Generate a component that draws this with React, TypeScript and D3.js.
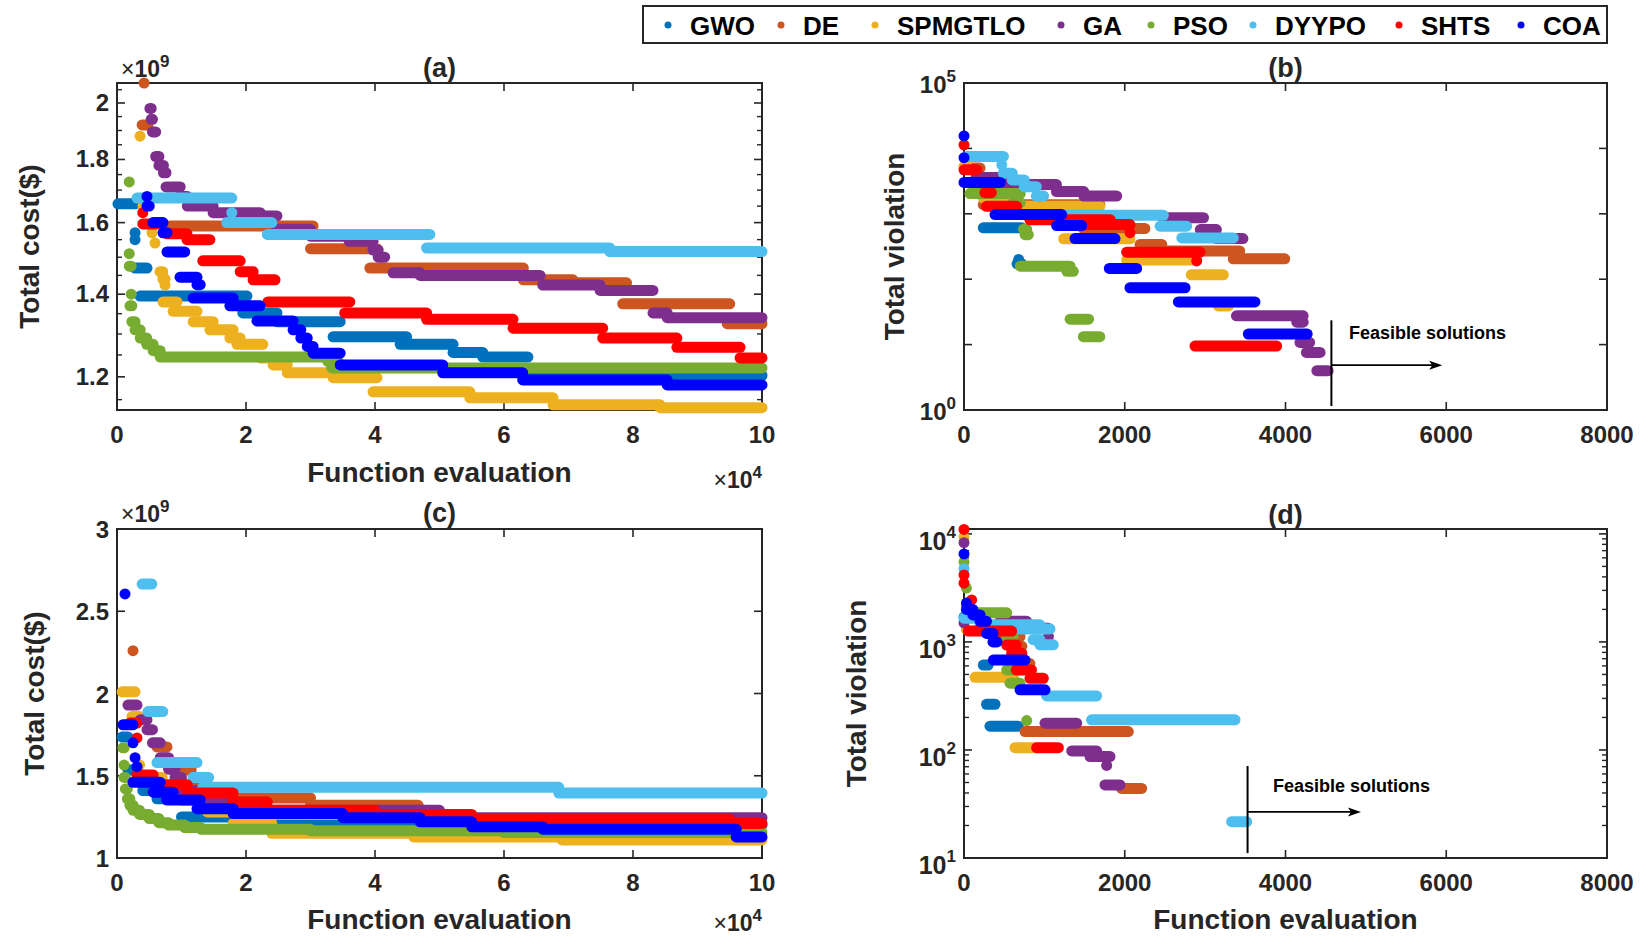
import React from 'react';
import * as d3 from 'd3';

type Run = [number, number, number]; // [start evaluation, end evaluation, value]

const algorithms = ['GWO', 'DE', 'SPMGTLO', 'GA', 'PSO', 'DYYPO', 'SHTS', 'COA'];
const colors = ['#0072BD', '#CC5520', '#EDB120', '#7E2F8E', '#77AC30', '#4DBEEE', '#FF0000', '#0000FF'];

// ---------- Panel (a): total cost (x1e9) vs function evaluation ----------
const aGWO: Run[] = [[150, 2800, 1.657], [2800, 2800, 1.57], [2800, 2800, 1.55], [2800, 4650, 1.47], [3570, 20150, 1.395], [19500, 24800, 1.352], [24800, 34600, 1.33], [33500, 44900, 1.293], [43900, 52100, 1.275], [52100, 56700, 1.256], [56700, 63700, 1.245], [63700, 100000, 1.203]];
const aDE: Run[] = [[4200, 4200, 2.076], [3900, 4800, 1.92], [8200, 30400, 1.59], [30000, 40300, 1.524], [39200, 63000, 1.47], [63000, 70700, 1.438], [70700, 79000, 1.43], [78400, 95000, 1.375], [94600, 100000, 1.325]];
const aSPMGTLO: Run[] = [[3570, 3570, 1.88], [4030, 4030, 1.65], [5430, 5430, 1.57], [5890, 5890, 1.54], [6670, 7100, 1.46], [7100, 7450, 1.44], [7450, 7450, 1.424], [7130, 9300, 1.38], [8700, 12400, 1.356], [11800, 14900, 1.33], [14400, 18000, 1.31], [17500, 19100, 1.29], [18600, 22600, 1.275], [22200, 24800, 1.243], [24200, 26400, 1.227], [26400, 33500, 1.209], [33500, 40300, 1.198], [39700, 54700, 1.167], [54700, 67600, 1.154], [67600, 84200, 1.139], [84200, 100000, 1.133]];
const aGA: Run[] = [[5100, 5300, 1.98], [5300, 5500, 1.94], [5500, 6000, 1.895], [6000, 6500, 1.81], [6500, 7200, 1.78], [7200, 7600, 1.756], [7600, 9800, 1.71], [9800, 10900, 1.68], [10900, 14900, 1.65], [14900, 22200, 1.63], [22200, 24800, 1.62], [24800, 30000, 1.58], [30000, 36000, 1.56], [36000, 39700, 1.545], [39700, 40500, 1.52], [40500, 41500, 1.5], [42800, 47000, 1.457], [47000, 65600, 1.45], [66000, 74900, 1.424], [74900, 83100, 1.41], [83100, 85300, 1.352], [85300, 100000, 1.34]];
const aPSO: Run[] = [[1900, 1900, 1.726], [1900, 1900, 1.51], [1900, 2200, 1.475], [2200, 2200, 1.4], [2000, 2300, 1.37], [2300, 2800, 1.33], [2800, 3600, 1.31], [3600, 4600, 1.29], [4600, 5600, 1.275], [5600, 6700, 1.26], [6700, 32700, 1.245], [32700, 34300, 1.235], [33300, 100000, 1.22]];
const aDYYPO: Run[] = [[3100, 17800, 1.675], [17800, 17800, 1.63], [17000, 24000, 1.6], [23300, 48500, 1.565], [48000, 76400, 1.526], [76400, 100000, 1.516]];
const aSHTS: Run[] = [[4000, 4000, 1.63], [4000, 6200, 1.596], [7750, 10850, 1.567], [10850, 14400, 1.55], [13300, 19100, 1.49], [19100, 21100, 1.46], [21100, 24500, 1.438], [23400, 36100, 1.38], [35300, 48000, 1.352], [48000, 61400, 1.336], [61400, 75300, 1.314], [75300, 86800, 1.29], [86800, 96600, 1.268], [96600, 100000, 1.243]];
const aCOA: Run[] = [[4650, 4650, 1.68], [4650, 5000, 1.65], [5580, 7130, 1.6], [7130, 7750, 1.57], [7750, 10500, 1.515], [9770, 12400, 1.445], [12400, 12900, 1.425], [11800, 18000, 1.39], [17500, 22200, 1.37], [21700, 27300, 1.332], [27300, 28500, 1.31], [28500, 29500, 1.29], [29500, 30400, 1.27], [30400, 34600, 1.254], [34600, 50500, 1.227], [50500, 62900, 1.209], [62900, 85300, 1.193], [85300, 100000, 1.182]];

// ---------- Panel (b): total violation vs function evaluation ----------
const bGWO: Run[] = [[240, 717, 610], [680, 680, 200], [660, 720, 172]];
const bDE: Run[] = [[40, 200, 5000], [240, 1690, 1380], [1485, 2250, 596], [2190, 2460, 340], [2440, 3430, 270], [3350, 3990, 205]];
const bSPMGTLO: Run[] = [[0, 40, 5300], [240, 490, 1740], [490, 1690, 1300], [1240, 2065, 415], [2024, 2895, 196], [2828, 3226, 117], [3164, 3290, 39]];
const bGA: Run[] = [[150, 480, 3600], [480, 1150, 2800], [1150, 1490, 2190], [1490, 1900, 1870], [2480, 2980, 870], [2940, 3140, 575], [3140, 3470, 418], [3390, 4220, 27.5], [4140, 4220, 22], [4180, 4300, 10.8], [4260, 4430, 7.6], [4390, 4530, 4]];
const bPSO: Run[] = [[75, 700, 2040], [620, 700, 1480], [740, 780, 580], [760, 800, 480], [700, 1320, 158], [1280, 1360, 132], [1320, 1550, 24.5], [1485, 1690, 13.2]];
const bDYYPO: Run[] = [[30, 490, 7530], [470, 470, 5600], [490, 600, 4170], [600, 750, 3300], [750, 900, 2600], [900, 990, 1870], [1240, 2480, 950], [2440, 2770, 646], [2710, 3350, 427]];
const bSHTS: Run[] = [[0, 0, 11350], [0, 160, 4700], [260, 340, 2100], [280, 655, 1300], [820, 1820, 810], [1400, 2065, 684], [2065, 2065, 515], [2024, 2936, 259], [2895, 2895, 190], [2874, 3890, 9.5]];
const bCOA: Run[] = [[0, 0, 15500], [0, 0, 7200], [0, 450, 3020], [386, 1215, 973], [1153, 1464, 661], [1381, 1879, 418], [1808, 2148, 146], [2065, 2750, 74], [2667, 3620, 45], [3537, 4270, 14.5]];

// ---------- Panel (c): total cost (x1e9) vs function evaluation ----------
const cGWO: Run[] = [[800, 1700, 1.735], [1700, 2500, 1.535], [4000, 6200, 1.41], [6200, 10000, 1.36], [10000, 20000, 1.25], [20000, 100000, 1.2]];
const cDE: Run[] = [[2480, 2480, 2.26], [6200, 7750, 1.675], [9800, 11500, 1.535], [11500, 14000, 1.45], [14000, 30000, 1.365], [30000, 46700, 1.32]];
const cSPMGTLO: Run[] = [[800, 2800, 2.01], [2300, 3500, 1.86], [3500, 3500, 1.565], [5000, 7000, 1.49], [7000, 10000, 1.42], [10000, 14000, 1.35], [14000, 18000, 1.28], [18000, 24000, 1.21], [24000, 46000, 1.15], [46000, 69000, 1.128], [69000, 100000, 1.11]];
const cGA: Run[] = [[1700, 3100, 1.93], [3600, 4650, 1.84], [4650, 5500, 1.78], [5500, 6700, 1.7], [6700, 8000, 1.61], [8000, 9000, 1.54], [9000, 10000, 1.49], [10000, 13000, 1.41], [13000, 18000, 1.36], [18000, 50000, 1.29], [50000, 100000, 1.245]];
const cPSO: Run[] = [[900, 1100, 1.67], [1100, 1100, 1.565], [1100, 1300, 1.49], [1300, 1600, 1.42], [1600, 2000, 1.36], [2000, 2500, 1.32], [2500, 3500, 1.29], [3500, 5000, 1.265], [5000, 6500, 1.24], [6500, 8000, 1.215], [8000, 10500, 1.2], [10500, 13000, 1.185], [13000, 30000, 1.175], [30000, 60000, 1.165], [60000, 100000, 1.155]];
const cDYYPO: Run[] = [[3900, 5400, 2.665], [4800, 7100, 1.89], [6200, 12400, 1.58], [11800, 14200, 1.49], [13300, 68500, 1.43], [68500, 100000, 1.395]];
const cSHTS: Run[] = [[2000, 3100, 1.82], [3100, 3100, 1.73], [3100, 5600, 1.505], [6200, 10900, 1.445], [10900, 18000, 1.395], [18000, 23300, 1.34], [23300, 40000, 1.29], [40000, 55000, 1.265], [55000, 95000, 1.235], [95000, 100000, 1.21]];
const cCOA: Run[] = [[1240, 1240, 2.605], [930, 2480, 1.81], [2480, 2480, 1.7], [2800, 2800, 1.61], [3100, 3100, 1.555], [2480, 6700, 1.46], [5600, 8700, 1.4], [7700, 12900, 1.353], [12400, 18000, 1.3], [18000, 35000, 1.27], [35000, 47000, 1.245], [47000, 55000, 1.22], [55000, 66000, 1.19], [66000, 96000, 1.175], [96000, 100000, 1.128]];

// ---------- Panel (d): total violation vs function evaluation ----------
const dGWO: Run[] = [[0, 0, 1700], [240, 300, 610], [280, 386, 265], [323, 676, 166]];
const dDE: Run[] = [[30, 30, 2150], [448, 697, 1120], [570, 720, 910], [660, 820, 630], [760, 2044, 148], [1960, 2210, 44]];
const dSPMGTLO: Run[] = [[0, 0, 9400], [30, 30, 1300], [137, 614, 470], [634, 904, 105]];
const dGA: Run[] = [[0, 0, 8300], [0, 0, 1500], [448, 780, 1550], [780, 1050, 1340], [1050, 1050, 1120], [1008, 1402, 177], [1340, 1650, 98], [1568, 1816, 87], [1775, 1775, 72], [1754, 1941, 47.5]];
const dPSO: Run[] = [[0, 0, 5500], [30, 30, 3150], [33, 531, 1860], [531, 610, 1120], [531, 650, 550], [572, 697, 415], [780, 780, 187]];
const dDYYPO: Run[] = [[0, 0, 4770], [0, 200, 1660], [200, 945, 1440], [697, 1070, 1320], [860, 945, 1050], [945, 1111, 940], [1028, 1650, 316], [1588, 3372, 190], [3330, 3517, 21.7]];
const dSHTS: Run[] = [[0, 0, 11000], [0, 0, 4170], [0, 0, 3500], [95, 95, 2450], [54, 593, 1260], [530, 650, 935], [593, 720, 785], [650, 840, 550], [821, 987, 460], [904, 1174, 105]];
const dCOA: Run[] = [[0, 0, 6530], [30, 30, 2290], [30, 110, 2000], [110, 200, 1780], [200, 280, 1550], [280, 360, 1200], [360, 410, 1000], [365, 759, 680], [697, 1008, 360]];

// ---------- Ticks ----------
const evalTicksLong = [0, 20000, 40000, 60000, 80000, 100000];
const evalTicksShort = [0, 2000, 4000, 6000, 8000];
const costTicksA = [1.2, 1.4, 1.6, 1.8, 2.0];
const costMinorA = [1.15, 1.25, 1.3, 1.35, 1.45, 1.5, 1.55, 1.65, 1.7, 1.75, 1.85, 1.9, 1.95, 2.05];
const costTicksC = [1, 1.5, 2, 2.5, 3];
const violTicksB = [1, 10, 100, 1000, 10000, 100000];
const violLabelsB = [1, 100000];
const violTicksD = [10, 100, 1000, 10000];

// Feasible-solution annotations (data units)
const feasibleB = { at: 4571, arrowTo: 5950, lineTop: 23.5, lineBottom: 1.15, arrowY: 4.85, textX: 4790, textY: 12 };
const feasibleD = { at: 3528, arrowTo: 4939, lineTop: 71, lineBottom: 11.1, arrowY: 26.7, textX: 3844, textY: 40.8 };

const FONT = '"Liberation Sans", Arial, Helvetica, sans-serif';
const AX = '#262626';
const R = 5.5;

type Box = { l: number; r: number; t: number; b: number };

const boxA: Box = { l: 117, r: 762, t: 83, b: 410 };
const boxB: Box = { l: 964, r: 1607, t: 83, b: 410 };
const boxC: Box = { l: 117, r: 762, t: 529, b: 858 };
const boxD: Box = { l: 964, r: 1607, t: 529, b: 858 };

function Series({ runs, x, y }: any) {
  return (
    <g>
      {runs.map((series: Run[], i: number) => (
        <g key={algorithms[i]}>
          {series.map((r, j) =>
            r[0] === r[1] ? (
              <circle key={j} cx={x(r[0])} cy={y(r[2])} r={R} fill={colors[i]} />
            ) : (
              <line key={j} x1={x(r[0])} x2={x(r[1])} y1={y(r[2])} y2={y(r[2])} stroke={colors[i]} strokeWidth={2 * R} strokeLinecap="round" />
            )
          )}
        </g>
      ))}
    </g>
  );
}

function Axes({ box, x, y, xTicks, xFmt, yMajor, yMinor, yLabels, labelDy, labelSize, logLabels, supSize, supDy }: any) {
  const maj = 8, mn = 5;
  return (
    <g fontFamily={FONT} fontWeight="bold" fill={AX}>
      <rect x={box.l} y={box.t} width={box.r - box.l} height={box.b - box.t} fill="none" stroke={AX} strokeWidth={2} />
      {xTicks.map((v: number) => (
        <g key={'x' + v}>
          <line x1={x(v)} x2={x(v)} y1={box.b} y2={box.b - maj} stroke={AX} strokeWidth={1.6} />
          <line x1={x(v)} x2={x(v)} y1={box.t} y2={box.t + maj} stroke={AX} strokeWidth={1.6} />
          <text x={x(v)} y={box.b + 33} textAnchor="middle" fontSize={24}>{xFmt(v)}</text>
        </g>
      ))}
      {yMajor.map((v: number) => (
        <g key={'y' + v}>
          <line x1={box.l} x2={box.l + maj} y1={y(v)} y2={y(v)} stroke={AX} strokeWidth={1.6} />
          <line x1={box.r} x2={box.r - maj} y1={y(v)} y2={y(v)} stroke={AX} strokeWidth={1.6} />
        </g>
      ))}
      {yMinor.map((v: number) => (
        <g key={'m' + v}>
          <line x1={box.l} x2={box.l + mn} y1={y(v)} y2={y(v)} stroke={AX} strokeWidth={1.4} />
          <line x1={box.r} x2={box.r - mn} y1={y(v)} y2={y(v)} stroke={AX} strokeWidth={1.4} />
        </g>
      ))}
      {yLabels.map((v: number) => (
        <text key={'l' + v} x={box.l - 8} y={y(v) + labelDy} textAnchor="end" fontSize={labelSize}>
          {logLabels ? (
            <>
              <tspan>10</tspan>
              <tspan dy={supDy} fontSize={supSize}>{String(Math.round(Math.log10(v)))}</tspan>
            </>
          ) : (
            String(v)
          )}
        </text>
      ))}
    </g>
  );
}

function Feasible({ f, x, y }: any) {
  const xa = x(f.at);
  const xe = x(f.arrowTo);
  const ya = y(f.arrowY);
  return (
    <g>
      <line x1={xa} x2={xa} y1={y(f.lineTop)} y2={y(f.lineBottom)} stroke="#000" strokeWidth={2} />
      <line x1={xa} x2={xe - 6} y1={ya} y2={ya} stroke="#000" strokeWidth={1.6} />
      <path d={`M${xe},${ya} L${xe - 13},${ya - 4.5} L${xe - 10},${ya} L${xe - 13},${ya + 4.5} Z`} fill="#000" />
      <text x={x(f.textX)} y={y(f.textY)} fontFamily={FONT} fontWeight="bold" fontSize={18} fill="#000">Feasible solutions</text>
    </g>
  );
}

export default function App() {
  const xA = d3.scaleLinear().domain([0, 100000]).range([boxA.l, boxA.r]);
  const yA = d3.scaleLog().domain([1.128, 2.076]).range([boxA.b, boxA.t]);
  const xB = d3.scaleLinear().domain([0, 8000]).range([boxB.l, boxB.r]);
  const yB = d3.scaleLog().domain([1, 100000]).range([boxB.b, boxB.t]);
  const xC = d3.scaleLinear().domain([0, 100000]).range([boxC.l, boxC.r]);
  const yC = d3.scaleLinear().domain([1, 3]).range([boxC.b, boxC.t]);
  const xD = d3.scaleLinear().domain([0, 8000]).range([boxD.l, boxD.r]);
  const yD = d3.scaleLog().domain([10, 11100]).range([boxD.b, boxD.t]);

  const minorD: number[] = [];
  [10, 100, 1000].forEach((dec) => {
    for (let k = 2; k <= 9; k++) minorD.push(k * dec);
  });

  const fmtLong = (v: number) => String(v / 10000);
  const fmtShort = (v: number) => String(v);

  const runsA = [aGWO, aDE, aSPMGTLO, aGA, aPSO, aDYYPO, aSHTS, aCOA];
  const runsB = [bGWO, bDE, bSPMGTLO, bGA, bPSO, bDYYPO, bSHTS, bCOA];
  const runsC = [cGWO, cDE, cSPMGTLO, cGA, cPSO, cDYYPO, cSHTS, cCOA];
  const runsD = [dGWO, dDE, dSPMGTLO, dGA, dPSO, dDYYPO, dSHTS, dCOA];

  const legendTextX = [690, 803, 897, 1083, 1173, 1275, 1421, 1543];

  const txt = { fontFamily: FONT, fontWeight: 'bold' as const, fill: AX };

  return (
    <svg width={1645} height={938} style={{ position: 'absolute', left: 0, top: 0, background: '#fff' }}>
      <rect x={0} y={0} width={1645} height={938} fill="#fff" />

      {/* Panel (a) */}
      <Axes box={boxA} x={xA} y={yA} xTicks={evalTicksLong} xFmt={fmtLong} yMajor={costTicksA} yMinor={costMinorA} yLabels={costTicksA} labelDy={8} labelSize={24} />
      <Series runs={runsA} x={xA} y={yA} />
      {/* Panel (b) */}
      <Axes box={boxB} x={xB} y={yB} xTicks={evalTicksShort} xFmt={fmtShort} yMajor={violTicksB} yMinor={[]} yLabels={violLabelsB} labelDy={10} labelSize={24} logLabels supSize={17} supDy={-11} />
      <Series runs={runsB} x={xB} y={yB} />
      <Feasible f={feasibleB} x={xB} y={yB} />
      {/* Panel (c) */}
      <Axes box={boxC} x={xC} y={yC} xTicks={evalTicksLong} xFmt={fmtLong} yMajor={costTicksC} yMinor={[]} yLabels={costTicksC} labelDy={9} labelSize={24} />
      <Series runs={runsC} x={xC} y={yC} />
      {/* Panel (d) */}
      <Axes box={boxD} x={xD} y={yD} xTicks={evalTicksShort} xFmt={fmtShort} yMajor={violTicksD} yMinor={minorD} yLabels={violTicksD} labelDy={16} labelSize={25} logLabels supSize={17} supDy={-12} />
      <Series runs={runsD} x={xD} y={yD} />
      <Feasible f={feasibleD} x={xD} y={yD} />

      {/* Titles */}
      <g {...txt} fontSize={27} textAnchor="middle">
        <text x={(boxA.l + boxA.r) / 2} y={77}>(a)</text>
        <text x={(boxB.l + boxB.r) / 2} y={77}>(b)</text>
        <text x={(boxC.l + boxC.r) / 2} y={522}>(c)</text>
        <text x={(boxD.l + boxD.r) / 2} y={524}>(d)</text>
      </g>

      {/* Axis labels */}
      <g {...txt} fontSize={28} textAnchor="middle">
        <text transform={`translate(39,${(boxA.t + boxA.b) / 2}) rotate(-90)`}>Total cost($)</text>
        <text transform={`translate(904,${(boxB.t + boxB.b) / 2}) rotate(-90)`}>Total violation</text>
        <text transform={`translate(44,${(boxC.t + boxC.b) / 2}) rotate(-90)`}>Total cost($)</text>
        <text transform={`translate(866,${(boxD.t + boxD.b) / 2}) rotate(-90)`}>Total violation</text>
        <text x={(boxA.l + boxA.r) / 2} y={482}>Function evaluation</text>
        <text x={(boxC.l + boxC.r) / 2} y={929}>Function evaluation</text>
        <text x={(boxD.l + boxD.r) / 2} y={929}>Function evaluation</text>
      </g>

      {/* Exponent labels */}
      <g {...txt} fontSize={23}>
        <text x={boxA.l + 4} y={77}><tspan fontWeight="normal">×</tspan>10<tspan dy={-10} fontSize={17}>9</tspan></text>
        <text x={boxC.l + 4} y={522}><tspan fontWeight="normal">×</tspan>10<tspan dy={-10} fontSize={17}>9</tspan></text>
        <text x={boxA.r} y={488} textAnchor="end"><tspan fontWeight="normal">×</tspan>10<tspan dy={-10} fontSize={17}>4</tspan></text>
        <text x={boxC.r} y={931} textAnchor="end"><tspan fontWeight="normal">×</tspan>10<tspan dy={-10} fontSize={17}>4</tspan></text>
      </g>

      {/* Legend */}
      <g>
        <rect x={643} y={6} width={964} height={37} fill="#fff" stroke={AX} strokeWidth={2} />
        {algorithms.map((name, i) => (
          <g key={name}>
            <circle cx={legendTextX[i] - 22} cy={25} r={3.5} fill={colors[i]} />
            <text x={legendTextX[i]} y={35} fontFamily={FONT} fontWeight="bold" fontSize={26} fill="#000">{name}</text>
          </g>
        ))}
      </g>
    </svg>
  );
}
